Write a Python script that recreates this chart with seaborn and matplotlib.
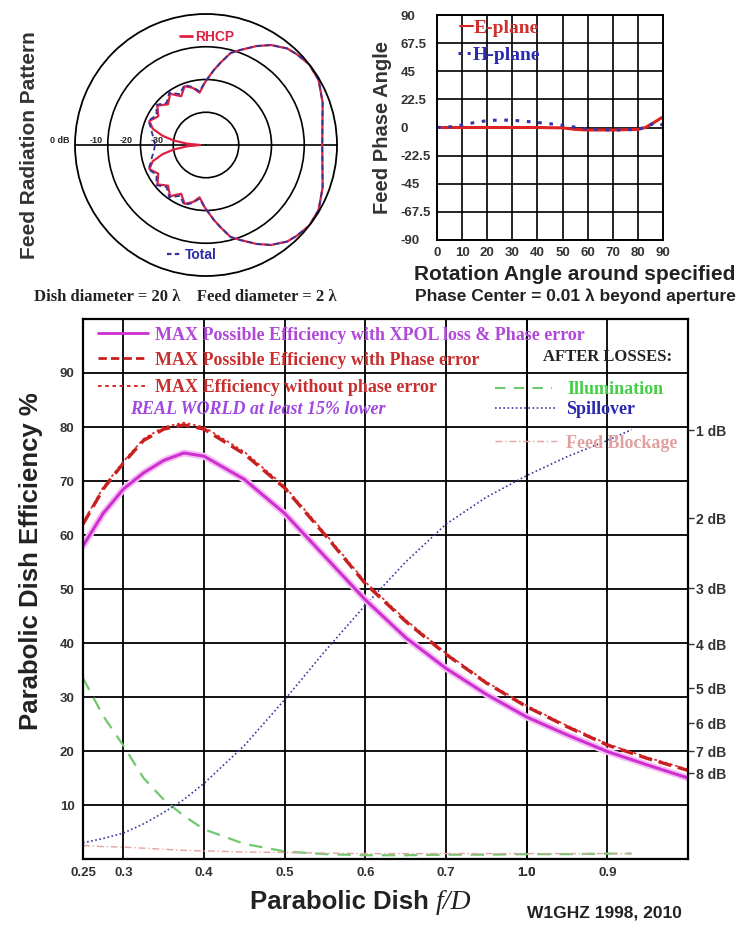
import numpy as np
import pandas as pd
import seaborn as sns
import matplotlib.pyplot as plt
from matplotlib.lines import Line2D
from matplotlib.legend import Legend

# feed radiation pattern: angle off boresight (deg) -> level (dB)
pat_ang = [0, 10, 20, 30, 38, 45, 50, 57, 63, 70, 75, 80, 84, 88, 91, 97, 103, 110,
           117, 125, 133, 141, 149, 157, 163, 168, 172, 176, 180]
rhcp_db = [-4.5, -3.9, -2.1, -0.3, 0.0, -0.8, -1.5, -3.6, -6.1, -9.1, -10.9, -14.5, -17.0,
           -19.4, -20.9, -23.9, -22.1, -20.9, -23.3, -20.9, -23.0, -20.9, -23.0, -21.2,
           -23.0, -26.4, -30.0, -34.2, -38.2]
total_db = [-4.5, -3.9, -2.1, -0.3, 0.0, -0.8, -1.5, -3.6, -6.1, -9.1, -10.9, -14.5, -17.0,
            -19.4, -20.8, -23.5, -21.8, -20.5, -22.6, -20.4, -22.4, -20.5, -22.4, -20.9,
            -22.4, -23.2, -23.8, -24.2, -24.4]
ring_db = [-30, -20, -10]
ring_lbl = ["0 dB", "-10", "-20", "-30"]
ring_lbl_r = [4.8, -6.4, -15.5, -25.2]

# feed phase vs rotation angle
e_ang = [0, 10, 20, 30, 40, 50, 55, 60, 70, 80, 83, 86, 90]
e_phase = [0, 0, 0, 0, 0, -0.3, -1.5, -2, -2, -1.5, 0, 3.5, 8.5]
h_ang = [0, 5, 10, 15, 20, 25, 30, 35, 40, 45, 50, 55, 60, 70, 80, 84, 87, 90]
h_phase = [0, 0.5, 2, 4, 5.5, 6, 5.8, 5, 4, 3, 1.8, 0.3, -1.2, -2, -1.5, 1, 4, 2]
phase_ticks = [-90, -67.5, -45, -22.5, 0, 22.5, 45, 67.5, 90]
phase_lbl = ["-90", "-67.5", "-45", "-22.5", "0", "22.5", "45", "67.5", "90"]

# efficiency vs f/D
fd = [0.25, 0.275, 0.3, 0.325, 0.35, 0.375, 0.4, 0.45, 0.5, 0.55, 0.6, 0.65, 0.7,
      0.75, 0.8, 0.85, 0.9, 0.95, 1.0]
eff_xpol = [58, 64, 68.5, 71.5, 73.8, 75.2, 74.6, 70.3, 64, 56, 48, 41, 35.3, 30.5,
            26.3, 23, 19.9, 17.4, 15]
eff_phase = [62, 68.5, 73.3, 77.5, 79.6, 80.4, 79.6, 75, 68.7, 60, 51, 44, 37.9, 32.6,
             28.2, 24.5, 21.1, 18.6, 16.4]
eff_nophase = [62.3, 68.8, 73.6, 77.8, 80.0, 80.8, 80.0, 75.4, 69.0, 60.3, 51.3, 44.3,
               38.1, 32.8, 28.4, 24.7, 21.3, 18.8, 16.6]
fd_loss = [0.25, 0.275, 0.3, 0.325, 0.35, 0.375, 0.4, 0.45, 0.5, 0.55, 0.6, 0.65, 0.7,
           0.75, 0.8, 0.85, 0.9, 0.93]
spillover = [3, 3.8, 4.8, 6.5, 8.6, 11, 14, 21, 29.5, 38.5, 47, 55, 62, 67, 71, 74.5,
             77.5, 79.5]
illumination = [33.5, 26.5, 21, 15, 11, 8, 5.5, 2.8, 1.4, 0.9, 0.7, 0.7, 0.8, 0.8, 0.9,
                0.9, 1.0, 1.0]
blockage = [2.5, 2.3, 2.2, 2.0, 1.8, 1.6, 1.5, 1.3, 1.2, 1.1, 1.0, 1.0, 1.0, 1.0, 1.0,
            1.0, 1.0, 1.0]
fd_ticks = [0.25, 0.3, 0.4, 0.5, 0.6, 0.7, 0.8, 0.8, 0.9]
fd_lbl = ["0.25", "0.3", "0.4", "0.5", "0.6", "0.7", "0.8", "1.0", "0.9"]
eff_ticks = [10, 20, 30, 40, 50, 60, 70, 80, 90]
loss_db = [1, 2, 3, 4, 5, 6, 7, 8]

sns.set_style("white")
plt.rcParams["font.family"] = ["Liberation Sans", "DejaVu Sans"]
plt.rcParams["font.weight"] = "bold"

W, H = 742, 926
fig = plt.figure(figsize=(W / 100, H / 100), dpi=100)
fig.patch.set_facecolor("white")


def fx(px):
    return px / W


def fy(py):
    return 1 - py / H


def key(ax, handle, text, color, px, py, size, hl, pad, family="Liberation Serif", style="normal"):
    leg = Legend(ax, [handle], [text], loc="center left", bbox_to_anchor=(fx(px), fy(py)),
                 bbox_transform=fig.transFigure, frameon=False, borderpad=0, borderaxespad=0,
                 handlelength=hl, handletextpad=pad, labelcolor=color,
                 prop={"family": family, "weight": "bold", "size": size, "style": style})
    ax.add_artist(leg)


# ---------------- polar feed pattern ----------------
pax = fig.add_axes([fx(75), fy(276), 262 / W, 262 / H], projection="polar")
theta = np.deg2rad(np.r_[-np.array(pat_ang[::-1]), pat_ang[1:]])
r_rhcp = np.r_[rhcp_db[::-1], rhcp_db[1:]]
r_total = np.r_[total_db[::-1], total_db[1:]]
sns.lineplot(x=theta, y=r_rhcp, ax=pax, color="#dd2244", lw=1.6, sort=False, estimator=None)
sns.lineplot(x=theta, y=r_total, ax=pax, color="#33339a", lw=1.3, linestyle=(0, (3, 2)),
             sort=False, estimator=None)
pax.set_ylim(-40, 0)
pax.set_yticks(ring_db)
pax.set_yticklabels([])
pax.set_xticks([0, np.pi])
pax.set_xticklabels([])
pax.grid(True, color="black", lw=1.2)
pax.spines["polar"].set_color("black")
pax.spines["polar"].set_linewidth(1.3)
pax.set_xlabel("")
pax.set_ylabel("")
for lbl, rr in zip(ring_lbl, ring_lbl_r):
    pax.text(np.pi, rr, lbl, ha="center", va="bottom", fontsize=6.5, color="#222222")
key(pax, Line2D([], [], color="#dd2244", lw=2), "RHCP", "#dd2244", 180, 37, 10, 0.86, 0.2,
    family="Liberation Sans")
key(pax, Line2D([], [], color="#33339a", lw=1.6, linestyle=(0, (2, 1.5))), "Total", "#2a2aa8",
    167, 255, 10, 1.08, 0.2, family="Liberation Sans")
fig.text(fx(30), fy(145), "Feed Radiation Pattern", rotation=90, ha="center", va="center",
         fontsize=15, color="#333333")
fig.text(fx(185), fy(297), "Dish diameter = 20 \u03bb    Feed diameter = 2 \u03bb",
         family="Liberation Serif", fontsize=12, ha="center", va="center", color="#222222")

# ---------------- phase plot ----------------
phx = fig.add_axes([fx(437), fy(240), 226 / W, 225 / H])
sns.lineplot(x=e_ang, y=e_phase, ax=phx, color="#dd2222", lw=2.2, estimator=None)
sns.lineplot(x=h_ang, y=h_phase, ax=phx, color="#3333aa", lw=2.2, linestyle=(0, (1.2, 2.5)),
             estimator=None)
phx.set_xlim(0, 90)
phx.set_ylim(-90, 90)
phx.set_xticks(range(0, 91, 10))
phx.set_yticks(phase_ticks)
phx.set_yticklabels(phase_lbl, ha="left")
phx.grid(True, color="black", lw=1.2)
phx.tick_params(axis="both", length=0, labelsize=9.5, colors="#333333")
phx.tick_params(axis="y", pad=26)
phx.tick_params(axis="x", pad=5)
for s in phx.spines.values():
    s.set_color("black")
    s.set_linewidth(1.4)
phx.set_xlabel("")
phx.set_ylabel("")
key(phx, Line2D([], [], color="#dd2222", lw=1.5), "E-plane", "#d03030", 460, 28, 14, 0.65, 0.05)
key(phx, Line2D([], [], color="#3333aa", lw=2.2, linestyle=(0, (1, 2))), "H-plane", "#2a2ab0",
    458, 55, 14, 0.72, 0.05)
fig.text(fx(383), fy(127), "Feed Phase Angle", rotation=90, ha="center", va="center",
         fontsize=14.5, color="#333333")
fig.text(fx(575), fy(274), "Rotation Angle around specified", ha="center", va="center",
         fontsize=15, color="#222222")
fig.text(fx(575), fy(296), "Phase Center = 0.01 \u03bb beyond aperture", ha="center",
         va="center", fontsize=12.5, color="#222222")

# ---------------- efficiency plot ----------------
ax = fig.add_axes([fx(83), fy(859), 605 / W, 540 / H])
sns.lineplot(x=fd_loss, y=illumination, ax=ax, color="#70c870", lw=1.6,
             linestyle=(0, (6, 4)), estimator=None)
sns.lineplot(x=fd_loss, y=blockage, ax=ax, color="#e3a3a3", lw=1.0,
             linestyle=(0, (5, 2, 1, 2)), estimator=None)
sns.lineplot(x=fd_loss, y=spillover, ax=ax, color="#3a3aa0", lw=1.2,
             linestyle=(0, (1, 1.5)), estimator=None)
sns.lineplot(x=fd, y=eff_xpol, ax=ax, color="#f4c0f4", lw=5, estimator=None)
sns.lineplot(x=fd, y=eff_xpol, ax=ax, color="#cf2fd0", lw=2.2, estimator=None)
sns.lineplot(x=fd, y=eff_nophase, ax=ax, color="#dd3030", lw=1.3,
             linestyle=(0, (1.5, 1.5)), estimator=None)
sns.lineplot(x=fd, y=eff_phase, ax=ax, color="#c82020", lw=2.4,
             linestyle=(0, (4, 2)), estimator=None)
ax.set_xlim(0.25, 1.0)
ax.set_ylim(0, 100)
ax.set_xticks(fd_ticks)
ax.set_xticklabels(fd_lbl)
ax.set_yticks(eff_ticks)
ax.grid(True, color="black", lw=1.3)
ax.tick_params(axis="both", length=0, labelsize=9.5, colors="#333333")
ax.tick_params(axis="x", pad=6)
ax.tick_params(axis="y", pad=6)
for s in ax.spines.values():
    s.set_color("black")
    s.set_linewidth(1.6)
ax.set_xlabel("")
ax.set_ylabel("")

ax2 = ax.twinx()
ax2.set_ylim(0, 100)
ax2.set_yticks([100 * 10 ** (-d / 10) for d in loss_db])
ax2.set_yticklabels([f"{d} dB" for d in loss_db])
ax2.tick_params(axis="y", right=True, length=4, width=1, pad=2, labelsize=10, colors="#333333")
ax2.grid(False)
for s in ax2.spines.values():
    s.set_visible(False)

key(ax2, Line2D([], [], color="#cf2fd0", lw=2), "MAX Possible Efficiency with XPOL loss & Phase error",
    "#b048d8", 98, 335, 13, 2.77, 0.39)
key(ax2, Line2D([], [], color="#c82020", lw=2, linestyle=(0, (3, 1.5))),
    "MAX Possible Efficiency with Phase error", "#c83030", 98, 360, 13, 2.77, 0.39)
key(ax2, Line2D([], [], color="#c82020", lw=1.3, linestyle=(0, (2, 2))),
    "MAX Efficiency without phase error", "#c83030", 98, 388, 13, 2.77, 0.39)
key(ax2, Line2D([], [], color="#70c870", lw=1.5, linestyle=(0, (5, 4))), "Illumination",
    "#44d044", 495, 390, 13, 3.15, 0.85)
key(ax2, Line2D([], [], color="#3a3aa0", lw=1.2, linestyle=(0, (1, 1.5))), "Spillover",
    "#2a2ab0", 495, 410, 13, 3.45, 0.5)
key(ax2, Line2D([], [], color="#e3a3a3", lw=1.0, linestyle=(0, (5, 2, 1, 2))), "Feed Blockage",
    "#e0a0a0", 495, 443, 13, 3.45, 0.5)
fig.text(fx(130), fy(409), "REAL WORLD at least 15% lower", family="Liberation Serif",
         style="italic", fontsize=13, color="#a048e0", va="center")
fig.text(fx(543), fy(357), "AFTER LOSSES:", family="Liberation Serif", fontsize=12,
         color="#222222", va="center")

fig.text(fx(31), fy(561), "Parabolic Dish Efficiency %", rotation=90, ha="center",
         va="center", fontsize=18.5, color="#222222")
t1 = fig.text(fx(250), fy(909), "Parabolic Dish", fontsize=18.5, color="#222222",
              va="baseline")
fig.text(fx(527), fy(913), "W1GHZ 1998, 2010", fontsize=12.5, color="#222222", va="center")

fig.canvas.draw()
bb = t1.get_window_extent()
fig.text((bb.x1 + 7) / W, fy(909), "f/D", family="Liberation Serif", style="italic",
         weight="normal", fontsize=20, color="#222222", va="baseline")

fig.savefig("out.png", dpi=100)
